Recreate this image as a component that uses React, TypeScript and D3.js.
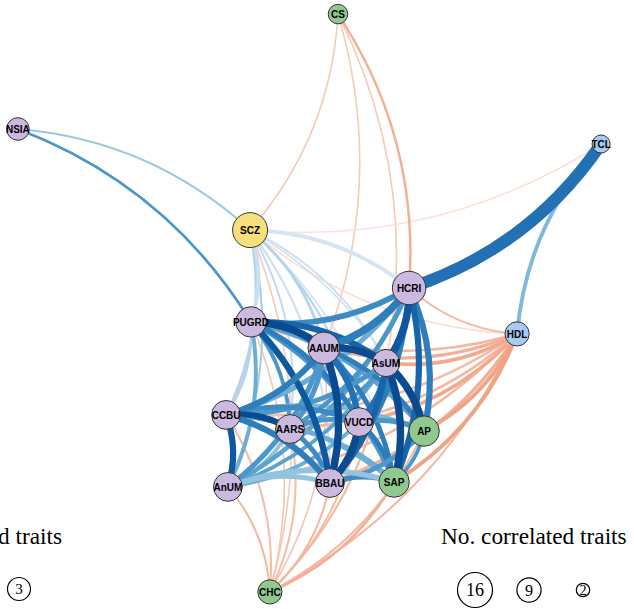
import React, { useEffect, useRef } from "react";
import * as d3 from "d3";

// traits in the network (order also decides which way an edge bends)
const nodeNames = ["NSIA", "CS", "HDL", "TCL", "SCZ", "HCRI", "PUGRD", "AAUM", "AsUM", "CCBU", "AARS", "VUCD", "AP", "AnUM", "BBAU", "SAP", "CHC"];
const nodeGroups = ["anthro", "metab", "lipid", "lipid", "psych", "anthro", "anthro", "anthro", "anthro", "anthro", "anthro", "anthro", "metab", "anthro", "anthro", "metab", "metab"];
// layout coordinates (spring layout, -1..1)
const layoutX = [-0.997, 0.07, 0.667, 0.947, -0.223, 0.307, -0.22, 0.023, 0.23, -0.303, -0.09, 0.14, 0.357, -0.297, 0.043, 0.257, -0.157];
const layoutY = [0.57, 0.953, -0.113, 0.52, 0.233, 0.04, -0.073, -0.16, -0.21, -0.383, -0.43, -0.407, -0.437, -0.623, -0.61, -0.607, -0.973];
// number of correlated traits per node
const nTraits = [8, 6, 9, 5, 16, 15, 13, 14, 11, 12, 12, 12, 13, 12, 12, 13, 9];

// [trait A, trait B, genetic correlation, strength]
const edges: [string, string, number, number][] = [
  ["NSIA", "SCZ", 0.38, 1.4],
  ["NSIA", "PUGRD", 0.6, 2.0],
  ["CS", "SCZ", -0.35, 1.0],
  ["CS", "HCRI", -0.55, 1.8],
  ["CS", "AAUM", -0.35, 1.0],
  ["CS", "AsUM", -0.35, 1.0],
  ["TCL", "HCRI", 0.75, 10],
  ["HDL", "TCL", 0.45, 3],
  ["TCL", "SCZ", -0.15, 1.0],
  ["HDL", "SCZ", -0.2, 1.0],
  ["SCZ", "HCRI", 0.18, 3],
  ["SCZ", "PUGRD", 0.22, 3],
  ["SCZ", "CCBU", 0.3, 2],
  ["SCZ", "AnUM", 0.35, 1.4],
  ["SCZ", "AARS", 0.25, 1.4],
  ["SCZ", "AAUM", 0.3, 2],
  ["SCZ", "AsUM", 0.2, 1.4],
  ["SCZ", "VUCD", 0.3, 1.4],
  ["SCZ", "BBAU", 0.22, 1.4],
  ["SCZ", "SAP", 0.2, 1.0],
  ["SCZ", "AP", 0.2, 1.0],
  ["SCZ", "CHC", -0.35, 1.0],
  ["HDL", "HCRI", -0.45, 1.4],
  ["HDL", "PUGRD", -0.5, 1.8],
  ["HDL", "AAUM", -0.55, 2.4],
  ["HDL", "AsUM", -0.6, 2.8],
  ["HDL", "VUCD", -0.6, 2.8],
  ["HDL", "AP", -0.65, 3],
  ["HDL", "SAP", -0.65, 3],
  ["HDL", "BBAU", -0.55, 2.4],
  ["HDL", "AARS", -0.5, 2],
  ["HDL", "CCBU", -0.45, 1.8],
  ["HDL", "AnUM", -0.5, 1.8],
  ["HDL", "CHC", -0.5, 1.4],
  ["CCBU", "CHC", -0.45, 1.4],
  ["AnUM", "CHC", -0.5, 1.4],
  ["PUGRD", "CHC", -0.4, 1.0],
  ["AARS", "CHC", -0.45, 1.4],
  ["BBAU", "CHC", -0.5, 1.4],
  ["VUCD", "CHC", -0.45, 1.4],
  ["AAUM", "CHC", -0.4, 1.0],
  ["AsUM", "CHC", -0.5, 1.4],
  ["SAP", "CHC", -0.55, 1.8],
  ["AP", "CHC", -0.5, 1.4],
  ["HCRI", "AsUM", 0.85, 6],
  ["HCRI", "AP", 0.7, 5],
  ["HCRI", "SAP", 0.8, 5],
  ["HCRI", "PUGRD", 0.65, 4.5],
  ["HCRI", "AAUM", 0.7, 6],
  ["HCRI", "CCBU", 0.5, 4],
  ["HCRI", "AnUM", 0.55, 3.5],
  ["HCRI", "VUCD", 0.7, 4],
  ["HCRI", "BBAU", 0.7, 4.5],
  ["HCRI", "AARS", 0.6, 3.5],
  ["PUGRD", "AAUM", 0.9, 6],
  ["PUGRD", "AsUM", 0.8, 5],
  ["PUGRD", "VUCD", 0.7, 4],
  ["PUGRD", "CCBU", 0.3, 2],
  ["PUGRD", "AARS", 0.6, 3],
  ["PUGRD", "BBAU", 0.85, 5],
  ["PUGRD", "SAP", 0.6, 3.5],
  ["PUGRD", "AP", 0.55, 3],
  ["PUGRD", "AnUM", 0.5, 3],
  ["AAUM", "AsUM", 0.9, 6],
  ["AAUM", "VUCD", 0.75, 5],
  ["AAUM", "BBAU", 0.9, 6],
  ["AAUM", "SAP", 0.7, 4],
  ["AAUM", "AP", 0.7, 4],
  ["AAUM", "CCBU", 0.7, 5],
  ["AAUM", "AARS", 0.6, 4],
  ["AAUM", "AnUM", 0.6, 4],
  ["AsUM", "AP", 0.9, 6],
  ["AsUM", "SAP", 0.9, 6],
  ["AsUM", "VUCD", 0.75, 4],
  ["AsUM", "BBAU", 0.8, 5],
  ["AsUM", "CCBU", 0.6, 4],
  ["AsUM", "AnUM", 0.55, 3],
  ["AsUM", "AARS", 0.6, 3],
  ["CCBU", "AARS", 0.9, 5],
  ["CCBU", "AnUM", 0.85, 5],
  ["CCBU", "BBAU", 0.7, 5],
  ["CCBU", "VUCD", 0.65, 4],
  ["CCBU", "SAP", 0.5, 3.5],
  ["CCBU", "AP", 0.45, 3],
  ["AARS", "VUCD", 0.6, 4],
  ["AARS", "BBAU", 0.65, 4],
  ["AARS", "AnUM", 0.4, 3],
  ["AARS", "SAP", 0.5, 3],
  ["VUCD", "BBAU", 0.9, 6],
  ["VUCD", "SAP", 0.7, 4],
  ["VUCD", "AP", 0.6, 4],
  ["VUCD", "AnUM", 0.5, 3],
  ["AP", "SAP", 0.6, 3],
  ["AP", "BBAU", 0.6, 4],
  ["AnUM", "BBAU", 0.4, 4],
  ["AnUM", "SAP", 0.4, 4.5],
  ["BBAU", "SAP", 0.65, 4],
];

const legendValues = [16, 9, 2];
const leftLegendValues = [3];
const legendTitle = "No. correlated traits";

const groupColors: Record<string, string> = {
  anthro: "#cbb9e0",
  metab: "#8fc98f",
  lipid: "#a6cbf3",
  psych: "#f5e07b",
};

const W = 634;
const H = 609;

const App = () => {
  const ref = useRef<SVGSVGElement>(null);

  useEffect(() => {
    const svg = d3.select(ref.current);
    svg.selectAll("*").remove();

    const x = d3.scaleLinear().domain([-1, 1]).range([17, 617]);
    const y = d3.scaleLinear().domain([-1, 1]).range([600, 0]);
    const rScale = d3.scaleLinear().domain([2, 16]).range([6.7, 17.5]);
    const wScale = d3.scaleLinear().domain([0, 10]).range([0.4, 12]);
    const negCol = d3.scaleLinear<string>().domain([0, 1]).range(["#fff5f0", "#e8784d"]);
    const col = (rg: number) => (rg > 0 ? d3.interpolateBlues(rg) : negCol(-rg));

    const idx = (n: string) => nodeNames.indexOf(n);

    const links = edges
      .map(([a, b, rg, z]) => {
        const i = Math.min(idx(a), idx(b));
        const j = Math.max(idx(a), idx(b));
        return { i, j, rg, z };
      })
      .sort((a, b) => a.z - b.z);

    const curve = (i: number, j: number) => {
      const x1 = x(layoutX[i]), y1 = y(layoutY[i]);
      const x2 = x(layoutX[j]), y2 = y(layoutY[j]);
      const dx = x2 - x1, dy = y2 - y1;
      const cx = (x1 + x2) / 2 + 0.17 * dy;
      const cy = (y1 + y2) / 2 - 0.17 * dx;
      const p = d3.path();
      p.moveTo(x1, y1);
      p.quadraticCurveTo(cx, cy, x2, y2);
      return p.toString();
    };

    svg
      .append("g")
      .selectAll("path")
      .data(links)
      .enter()
      .append("path")
      .attr("d", (d) => curve(d.i, d.j))
      .attr("fill", "none")
      .attr("stroke", (d) => col(d.rg))
      .attr("stroke-width", (d) => wScale(d.z));

    const nodes = svg
      .append("g")
      .selectAll("g")
      .data(nodeNames)
      .enter()
      .append("g")
      .attr("transform", (d, i) => `translate(${x(layoutX[i])},${y(layoutY[i])})`);

    nodes
      .append("circle")
      .attr("r", (d, i) => rScale(nTraits[i]))
      .attr("fill", (d, i) => groupColors[nodeGroups[i]])
      .attr("stroke", "#333")
      .attr("stroke-width", 1);

    nodes
      .append("text")
      .text((d) => d)
      .attr("text-anchor", "middle")
      .attr("dy", "0.36em")
      .attr("font-family", "Liberation Sans, Arial, sans-serif")
      .attr("font-weight", "bold")
      .attr("font-size", 10)
      .attr("fill", "#000");

    // legends
    const serif = "Liberation Serif, Times New Roman, serif";
    svg
      .append("text")
      .attr("x", 441)
      .attr("y", 544)
      .attr("font-family", serif)
      .attr("font-size", 23.3)
      .text(legendTitle);
    // neighbouring panel's legend, cut by the left edge as in the figure
    svg
      .append("text")
      .attr("x", 62)
      .attr("y", 544)
      .attr("text-anchor", "end")
      .attr("font-family", serif)
      .attr("font-size", 23.3)
      .text(legendTitle);

    const lx = d3.scalePoint<number>().domain(legendValues).range([475, 583]);
    const leg = svg
      .append("g")
      .selectAll("g")
      .data(legendValues)
      .enter()
      .append("g")
      .attr("transform", (d) => `translate(${lx(d)},590)`);
    leg
      .append("circle")
      .attr("r", (d) => rScale(d))
      .attr("fill", "none")
      .attr("stroke", "#000")
      .attr("stroke-width", 1.2);
    leg
      .append("text")
      .text((d) => d)
      .attr("text-anchor", "middle")
      .attr("dy", "0.35em")
      .attr("font-family", serif)
      .attr("font-size", (d) => 12 + 0.35 * rScale(d));

    const leftLeg = svg
      .append("g")
      .selectAll("g")
      .data(leftLegendValues)
      .enter()
      .append("g")
      .attr("transform", "translate(19,589)");
    leftLeg
      .append("circle")
      .attr("r", 11.5)
      .attr("fill", "none")
      .attr("stroke", "#000")
      .attr("stroke-width", 1.2);
    leftLeg
      .append("text")
      .text((d) => d)
      .attr("text-anchor", "middle")
      .attr("dy", "0.35em")
      .attr("font-family", serif)
      .attr("font-size", 15);
  }, []);

  return (
    <svg
      ref={ref}
      width={W}
      height={H}
      viewBox={`0 0 ${W} ${H}`}
      style={{ position: "absolute", left: 0, top: 0, background: "#fff" }}
    />
  );
};

export default App;
